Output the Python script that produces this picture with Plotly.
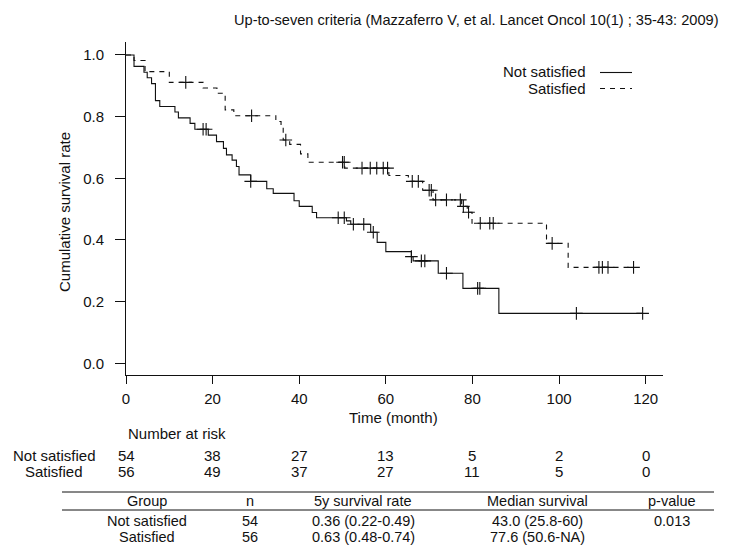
import plotly.graph_objects as go

# ---------------- data ----------------
title_text = "Up-to-seven criteria (Mazzaferro V, et al. Lancet Oncol 10(1) ; 35-43: 2009)"
group_names = ["Not satisfied", "Satisfied"]

# Not satisfied: event times (month) and survival after each step
ns_times = [0, 1.85, 4.15, 4.9, 5.9, 6.8, 7.8, 11.3, 12.1, 14.8, 15.9, 19.0, 20.9, 22.5,
            23.2, 24.5, 25.5, 26.1, 28.8, 32.5, 34.0, 38.8, 40.0, 43.0, 44.0, 50.9, 51.9,
            56.5, 58.0, 60.0, 65.9, 66.3, 72.1, 77.8, 86.1]
ns_surv = [1.0, 0.963, 0.944, 0.926, 0.907, 0.852, 0.833, 0.815, 0.796, 0.778, 0.759, 0.740,
           0.719, 0.697, 0.676, 0.659, 0.638, 0.611, 0.590, 0.566, 0.551, 0.527, 0.509, 0.489,
           0.472, 0.462, 0.451, 0.425, 0.392, 0.362, 0.346, 0.332, 0.292, 0.243, 0.162]
ns_censor = [17.8, 18.5, 28.8, 49.0, 50.4, 52.5, 54.9, 57.1, 65.9, 68.2, 69.0, 74.0,
             81.2, 81.7, 104.0, 119.3]

# Satisfied
s_times = [0, 1.85, 4.4, 10.0, 17.8, 21.0, 22.9, 24.9, 34.6, 35.8, 36.3, 37.8, 40.3, 42.0,
           50.5, 60.7, 65.2, 68.5, 70.9, 77.5, 78.8, 79.9, 97.1, 102.1]
s_surv = [1.0, 0.982, 0.946, 0.911, 0.893, 0.876, 0.822, 0.803, 0.784, 0.764, 0.724, 0.710,
          0.679, 0.652, 0.633, 0.609, 0.590, 0.561, 0.530, 0.509, 0.490, 0.454, 0.389, 0.311]
s_censor = [13.8, 29.0, 36.9, 50.0, 50.4, 54.5, 56.4, 57.9, 59.4, 60.4, 66.1, 67.5, 70.0,
            70.5, 71.5, 74.0, 77.2, 77.9, 79.1, 81.8, 84.0, 84.8, 98.4, 109.2, 110.0,
            111.3, 117.2]

x_ticks = [0, 20, 40, 60, 80, 100, 120]
y_ticks = [0.0, 0.2, 0.4, 0.6, 0.8, 1.0]
risk_times = [0, 20, 40, 60, 80, 100, 120]
risk_ns = [54, 38, 27, 13, 5, 2, 0]
risk_s = [56, 49, 37, 27, 11, 5, 0]

table_header = ["Group", "n", "5y survival rate", "Median survival", "p-value"]
table_group = ["Not satisfied", "Satisfied"]
table_n = ["54", "56"]
table_5y = ["0.36 (0.22-0.49)", "0.63 (0.48-0.74)"]
table_median = ["43.0 (25.8-60)", "77.6 (50.6-NA)"]
table_p = ["0.013", ""]

# ---------------- helpers ----------------
def step_value(times, surv, t):
    v = surv[0]
    for ti, si in zip(times, surv):
        if ti <= t:
            v = si
    return v

def step_path(times, surv, end):
    xs = list(times) + [end]
    ys = list(surv) + [surv[-1]]
    return xs, ys

FONT = "Liberation Sans, Arial, Helvetica, sans-serif"
INK = "#111111"
OFF = 8                       # page body margin of the browser
W_FIG, H_FIG = 730 - OFF, 547 - OFF
# plot area in window pixels
L, R, T, B = 126 - OFF, 663 - OFF, 42 - OFF, 375 - OFF
PW, PH = R - L, B - T

def px_x(px):
    return (px - OFF - L) / PW

def px_y(py):
    return (B - (py - OFF)) / PH

fig = go.Figure()

series = [
    (ns_times, ns_surv, ns_censor, "solid"),
    (s_times, s_surv, s_censor, "5px,5px"),
]
for name, (tt, ss, cc, dash) in zip(group_names, series):
    xs, ys = step_path(tt, ss, max(cc))
    fig.add_trace(go.Scatter(x=xs, y=ys, mode="lines", name=name,
                             line=dict(shape="hv", color=INK, width=1.1, dash=dash),
                             showlegend=False, hoverinfo="skip"))
    fig.add_trace(go.Scatter(x=cc, y=[step_value(tt, ss, c) for c in cc], mode="markers",
                             marker=dict(symbol="cross-thin", size=9,
                                         line=dict(color=INK, width=1.1)),
                             showlegend=False, hoverinfo="skip"))

annotations = []
shapes = []

def txt(text, x, y, size=15, xanchor="center", xref="paper", angle=0):
    annotations.append(dict(text=text, x=x, y=y, xref=xref, yref="paper",
                            xanchor=xanchor, yanchor="middle", showarrow=False,
                            textangle=angle, font=dict(size=size, color=INK, family=FONT)))

# title
txt(title_text, px_x(476), px_y(20), size=14.6)
# legend (text left of line sample)
for i, (name, dash) in enumerate(zip(group_names, ["solid", "5px,5px"])):
    yy = 72 + 16 * i
    txt(name, px_x(588), px_y(yy), size=15, xanchor="right")
    shapes.append(dict(type="line", xref="paper", yref="paper",
                       x0=px_x(600), x1=px_x(632), y0=px_y(yy + 0.5), y1=px_y(yy + 0.5),
                       line=dict(color=INK, width=1.1, dash=dash)))
# axis titles
txt("Cumulative survival rate", px_x(64), px_y(212), size=15, angle=-90)
txt("Time (month)", px_x(393), px_y(417), size=15)

# number at risk
txt("Number at risk", px_x(126), px_y(433), size=15, xanchor="left")
for j, (name, counts) in enumerate(zip(group_names, [risk_ns, risk_s])):
    yy = 455 + 16 * j
    txt(name, px_x(54), px_y(yy), size=15)
    for t, c in zip(risk_times, counts):
        txt(str(c), t, px_y(yy), size=15, xref="x")

# summary table
col_x = [147, 250, 363, 537, 672]
for yy in (492, 510):
    shapes.append(dict(type="line", xref="paper", yref="paper",
                       x0=px_x(62), x1=px_x(714), y0=px_y(yy), y1=px_y(yy),
                       line=dict(color=INK, width=1)))
for cx, h in zip(col_x, table_header):
    txt(h, px_x(cx), px_y(501), size=14.5)
rows = list(zip(table_group, table_n, table_5y, table_median, table_p))
for i, row in enumerate(rows):
    yy = 521 + 16 * i
    for cx, cell in zip(col_x, row):
        if cell:
            txt(cell, px_x(cx), px_y(yy), size=14.5)

fig.update_layout(
    width=W_FIG, height=H_FIG,
    margin=dict(l=L, r=W_FIG - R, t=T, b=H_FIG - B, pad=0),
    paper_bgcolor="white", plot_bgcolor="white",
    font=dict(family=FONT, color=INK, size=15),
    showlegend=False,
    annotations=annotations, shapes=shapes,
    xaxis=dict(range=[0, 124], tickvals=x_ticks, showgrid=False, zeroline=False,
               showline=True, linecolor=INK, linewidth=1, ticks="outside", ticklen=8,
               tickcolor=INK, tickwidth=1, ticklabelstandoff=2,
               tickfont=dict(size=15, family=FONT, color=INK)),
    yaxis=dict(range=[-0.038, 1.042], tickvals=y_ticks, tickformat=".1f", showgrid=False,
               zeroline=False, showline=True, linecolor=INK, linewidth=1,
               ticks="outside", ticklen=10, tickcolor=INK, tickwidth=1,
               ticklabelstandoff=8, tickfont=dict(size=15, family=FONT, color=INK)),
)

fig.write_html("out.html")
